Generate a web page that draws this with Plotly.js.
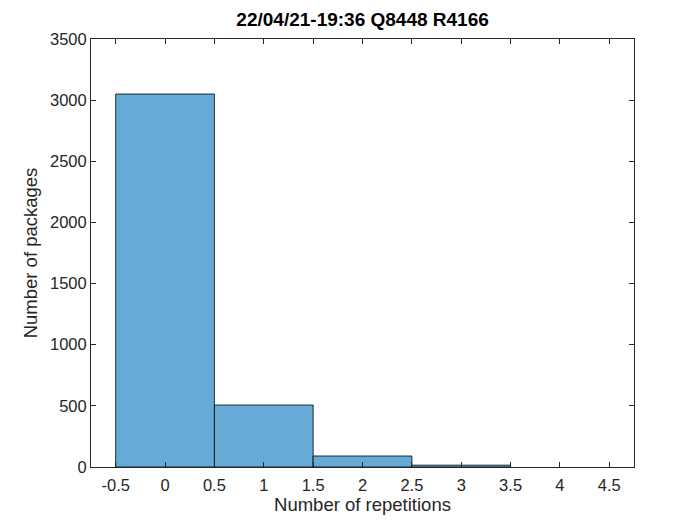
<!DOCTYPE html>
<html>
<head>
<meta charset="utf-8">
<script src="https://cdn.plot.ly/plotly-3.0.1.min.js"></script>
<style>
  html, body { margin: 0; padding: 0; background: #fff; }
  #chart { width: 700px; height: 525px; }
</style>
</head>
<body>
<div id="chart"></div>
<script>
const repetitions = [0, 1, 2, 3];
const packageCounts = [3050, 507, 90, 15];
const xTickValues = [-0.5, 0, 0.5, 1, 1.5, 2, 2.5, 3, 3.5, 4, 4.5];
const xTickLabels = ["-0.5", "0", "0.5", "1", "1.5", "2", "2.5", "3", "3.5", "4", "4.5"];
const yTickValues = [0, 500, 1000, 1500, 2000, 2500, 3000, 3500];

const axisBase = {
  showline: true,
  mirror: "ticks",
  linecolor: "#262626",
  linewidth: 1,
  ticks: "inside",
  ticklen: 5,
  tickcolor: "#262626",
  showgrid: false,
  zeroline: false,
  tickfont: { size: 16.5, color: "#262626" },
};

const trace = {
  type: "bar",
  x: repetitions,
  y: packageCounts,
  width: 1,
  marker: {
    color: "#66AAD7",
    line: { color: "#000000", width: 0.8 },
  },
  hoverinfo: "x+y",
};

const layout = {
  width: 700,
  height: 525,
  paper_bgcolor: "#ffffff",
  plot_bgcolor: "#ffffff",
  font: { family: "Liberation Sans, Arial, sans-serif", color: "#262626" },
  margin: { t: 39, r: 66, b: 58, l: 91 },
  showlegend: false,
  bargap: 0,
  title: {
    text: "<b>22/04/21-19:36 Q8448 R4166</b>",
    font: { size: 19, color: "#000000" },
    x: 0.518,
    xanchor: "center",
    y: 0.975,
    yanchor: "top",
  },
  xaxis: {
    ...axisBase,
    range: [-0.75, 4.75],
    tickvals: xTickValues,
    ticktext: xTickLabels,
    ticklabelstandoff: 3,
    title: { text: "Number of repetitions", font: { size: 18.5, color: "#262626" }, standoff: 4 },
  },
  yaxis: {
    ...axisBase,
    range: [0, 3500],
    tickvals: yTickValues,
    title: { text: "Number of packages", font: { size: 18.5, color: "#262626" }, standoff: 7 },
  },
};

Plotly.newPlot("chart", [trace], layout, { displayModeBar: false, staticPlot: true });
</script>
</body>
</html>
